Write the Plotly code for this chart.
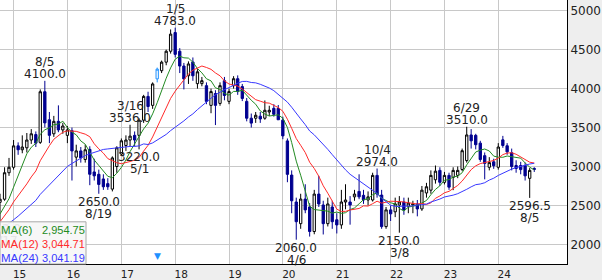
import pandas as pd
import plotly.graph_objects as go

# ---------------- data (monthly OHLC, Oct 2014 .. Sep 2024) ----------------
start_month = "2014-10-01"
opens = [2540, 2580, 2920,
         2990, 3265, 3215, 3240, 3340, 3410, 3310, 3960, 3600, 3420, 3580, 3470,
         3400, 3460, 3120, 3200, 3090, 3220, 2930, 2900, 2840, 2780, 2710, 3000,
         3160, 3270, 3340, 3400, 3400, 3595, 3900, 3785, 4125, 4230, 4340, 4480,
         4720, 4480, 4290, 4165, 4342, 4064, 4064, 4038, 3785, 3937, 3810, 4102,
         3836, 4038, 4127, 4026, 3836, 3620, 3620, 3646, 3620, 3700, 3747, 3747,
         3595, 3329, 2890, 2544, 2266, 2582, 2481, 2165, 2646, 2506, 2266, 2480,
         2316, 2250, 2544, 2544, 2610, 2680, 2630, 2570, 2570, 2886, 2633, 2228,
         2443, 2418, 2506, 2544, 2490, 2506, 2519, 2455, 2660, 2696, 2830, 2950,
         2797, 2886, 2860, 2886, 2962, 3076, 3405, 3400, 3300, 3139, 2990, 3060,
         2990, 3342, 3266, 3177, 3013, 3013, 3013, 2848, 2975]
highs = [2650, 2990, 3110,
         3340, 3310, 3400, 3430, 3480, 3450, 3990, 4100, 3700, 3650, 3785, 3560,
         3520, 3500, 3280, 3250, 3280, 3260, 3100, 2960, 2900, 2850, 3130, 3260,
         3360, 3400, 3536, 3450, 3620, 3920, 3960, 4080, 4270, 4360, 4500, 4760,
         4783, 4520, 4330, 4350, 4400, 4250, 4150, 4080, 4000, 3980, 4080, 4150,
         4000, 4160, 4170, 4060, 3880, 3680, 3700, 3700, 3848, 3780, 3800, 3790,
         3640, 3360, 2950, 2600, 2650, 2772, 2530, 2700, 2880, 2560, 2600, 2560,
         2400, 2700, 2772, 2620, 2700, 2900, 2700, 2680, 2920, 2974, 2700, 2480,
         2500, 2600, 2620, 2600, 2600, 2560, 2570, 2750, 2790, 2950, 3013, 2990,
         2930, 2920, 2990, 3000, 3230, 3510, 3480, 3420, 3330, 3180, 3120, 3100,
         3300, 3393, 3300, 3230, 3080, 3060, 3050, 2980, 2990]
lows = [2302, 2560, 2880,
        2960, 3150, 3170, 3180, 3290, 3250, 3290, 3500, 3300, 3380, 3440, 3420,
        3300, 2820, 3000, 3050, 3050, 2760, 2820, 2650, 2700, 2700, 2680, 2920,
        3140, 3200, 3260, 3260, 3220, 3560, 3700, 3740, 4080, 4200, 4300, 4450,
        4400, 4200, 3990, 4060, 4100, 4000, 4030, 3800, 3684, 3532, 3780, 3850,
        3800, 4000, 3920, 3840, 3580, 3500, 3560, 3560, 3600, 3650, 3640, 3600,
        3350, 2798, 2400, 2060, 2200, 2400, 2100, 2130, 2480, 2127, 2230, 2200,
        2140, 2200, 2450, 2253, 2560, 2580, 2520, 2500, 2550, 2600, 2200, 2200,
        2300, 2350, 2150, 2380, 2400, 2400, 2360, 2430, 2600, 2650, 2780, 2750,
        2770, 2700, 2696, 2850, 2940, 3050, 3230, 3220, 3060, 2835, 2950, 2970,
        2960, 3240, 3150, 2950, 2920, 2900, 2820, 2596.5, 2930]
closes = [2580, 2920, 2990,
          3265, 3215, 3250, 3340, 3420, 3300, 3960, 3560, 3400, 3580, 3470, 3520,
          3470, 3200, 3200, 3110, 3215, 2900, 2880, 2770, 2740, 2740, 3110, 3240,
          3330, 3340, 3390, 3340, 3595, 3900, 3770, 4060, 4250, 4340, 4480, 4700,
          4440, 4290, 4125, 4317, 4165, 4216, 4102, 3836, 3962, 3785, 4038, 3912,
          3962, 4127, 3962, 3874, 3620, 3557, 3658, 3610, 3722, 3722, 3670, 3600,
          3393, 2899, 2560, 2291, 2582, 2443, 2165, 2646, 2519, 2266, 2519, 2291,
          2250, 2544, 2570, 2506, 2646, 2610, 2570, 2610, 2886, 2646, 2228, 2443,
          2392, 2519, 2544, 2443, 2530, 2519, 2455, 2696, 2740, 2886, 2940, 2797,
          2886, 2735, 2950, 2950, 3203, 3405, 3330, 3280, 3090, 3040, 3050, 3010,
          3250, 3270, 3188, 3000, 2975, 2960, 2880, 2950, 2963.5]
# closes before the visible window (Nov 2012 .. Sep 2014), used for the moving averages
pre_start = "2012-11-01"
pre_closes = [1900, 1950, 2050, 2100, 2120, 2150, 2100, 2080, 2100, 2080, 2110, 2089,
              2000, 2050, 2065, 2300, 2350, 2375, 2350, 2380, 2380, 2330, 2320]

ma_periods = [6, 12, 24]
ma_colors = ["#228B22", "#FF2A2A", "#3838FF"]

# high / low labels: (month, kind, date text)
marks = [("2014-10", "low", "10/17"), ("2015-08", "high", "8/5"), ("2016-08", "low", "8/19"),
         ("2017-03", "high", "3/16"), ("2017-05", "low", "5/1"), ("2018-01", "high", "1/5"),
         ("2020-04", "low", "4/6"), ("2021-10", "high", "10/4"), ("2022-03", "low", "3/8"),
         ("2023-06", "high", "6/29"), ("2024-08", "low", "8/5")]
faint_marks = ["2014-10"]
event_months = ["2017-09"]

year_ticks = [str(y) + "-01-01" for y in range(2015, 2025)]
year_text = [str(y)[2:] for y in range(2015, 2025)]
price_ticks = [2000, 2500, 3000, 3500, 4000, 4500, 5000]

# ---------------- build ----------------
dates = pd.date_range(start_month, periods=len(closes), freq="MS")
df = pd.DataFrame({"o": opens, "h": highs, "l": lows, "c": closes}, index=dates)
all_dates = pd.date_range(pre_start, periods=len(pre_closes) + len(closes), freq="MS")
all_close = pd.Series(pre_closes + closes, index=all_dates)

ev_idx = pd.to_datetime([m + "-01" for m in event_months])
main = df[~df.index.isin(ev_idx)]
ev = df[df.index.isin(ev_idx)]

DARK = "#000090"
fig = go.Figure()
fig.add_trace(go.Candlestick(
    x=main.index, open=main.o, high=main.h, low=main.l, close=main.c,
    increasing=dict(line=dict(color="#000000", width=1), fillcolor="#FFFFFF"),
    decreasing=dict(line=dict(color=DARK, width=1), fillcolor=DARK),
    whiskerwidth=0, showlegend=False, hoverinfo="skip"))
fig.add_trace(go.Candlestick(
    x=ev.index, open=ev.o, high=ev.h, low=ev.l, close=ev.c,
    increasing=dict(line=dict(color="#1E90FF", width=1), fillcolor="#FFFFFF"),
    decreasing=dict(line=dict(color="#1E90FF", width=1), fillcolor="#FFFFFF"),
    whiskerwidth=0, showlegend=False, hoverinfo="skip"))

ma_last = []
for p, col in zip(ma_periods, ma_colors):
    ma = all_close.rolling(p).mean()
    ma_last.append(ma.iloc[-1])
    fig.add_trace(go.Scatter(x=ma.index, y=ma.values, mode="lines",
                             line=dict(color=col, width=1), showlegend=False,
                             hoverinfo="skip"))

ann = []
FONT = dict(family="DejaVu Sans", size=12, color="#222222")
for m, kind, dt in marks:
    d = pd.Timestamp(m + "-01")
    faint = m in faint_marks
    f = dict(FONT, color="#e4e4e4") if faint else FONT
    if kind == "high":
        v = df.loc[d, "h"]
        ann.append(dict(x=d, y=v, text=f"{v:.1f}", showarrow=False, yanchor="bottom",
                        yshift=-2, font=f))
        ann.append(dict(x=d, y=v, text=dt, showarrow=False, yanchor="bottom",
                        yshift=10, font=f))
    else:
        v = df.loc[d, "l"]
        ann.append(dict(x=d, y=v, text=f"{v:.1f}", showarrow=False, yanchor="top",
                        yshift=1, font=f))
        ann.append(dict(x=d, y=v, text=dt, showarrow=False, yanchor="top",
                        yshift=-11, font=f))

for m in event_months:
    ann.append(dict(x=pd.Timestamp(m + "-01"), y=0, yref="paper", yanchor="bottom",
                    text="▼", showarrow=False, yshift=1,
                    font=dict(family="DejaVu Sans", size=9, color="#1E90FF")))

# legend box
box_w = 86 / 567
box_h = 43 / 269
shapes = [dict(type="rect", xref="paper", yref="paper", x0=0, x1=box_w, y0=0, y1=box_h,
               fillcolor="rgba(246,246,246,0.93)", line=dict(color="#a8a8a8", width=1),
               layer="above")]
row_y = [0.130, 0.076, 0.024]
LEG_FONT = "Liberation Sans, Arial, sans-serif"
for p, col, val, yy in zip(ma_periods, ma_colors, ma_last, row_y):
    ann.append(dict(x=0.0, y=yy, xref="paper", yref="paper", xanchor="left",
                    yanchor="middle", text=f"MA({p})", showarrow=False, borderpad=0,
                    font=dict(family=LEG_FONT, size=11.5, color=col)))
    ann.append(dict(x=86 / 567, y=yy, xref="paper", yref="paper", xanchor="right",
                    yanchor="middle", text=f"{val:,.2f}", showarrow=False, borderpad=0,
                    font=dict(family=LEG_FONT, size=11, color=col)))

fig.update_layout(
    width=602, height=280,
    margin=dict(l=0, r=35, t=0, b=11),
    paper_bgcolor="#EEEEEE", plot_bgcolor="#FFFFFF",
    annotations=ann, shapes=shapes, boxgap=0.2,
    xaxis=dict(type="date", range=["2014-10-01", "2025-04-11"],
               rangeslider=dict(visible=False),
               tickvals=year_ticks, ticktext=year_text, ticklabelshift=6,
               showgrid=True, gridcolor="#C8C8C8", gridwidth=1,
               showline=True, linecolor="#000000", linewidth=1, ticks="",
               zeroline=False,
               tickfont=dict(family="DejaVu Sans", size=10.5, color="#222222")),
    yaxis=dict(side="right", range=[1748, 5138], tickvals=price_ticks,
               showgrid=True, gridcolor="#C8C8C8", gridwidth=1,
               showline=True, linecolor="#000000", linewidth=1, ticks="",
               zeroline=False,
               tickfont=dict(family="DejaVu Sans", size=12, color="#222222")),
)

fig.write_html("out.html")
